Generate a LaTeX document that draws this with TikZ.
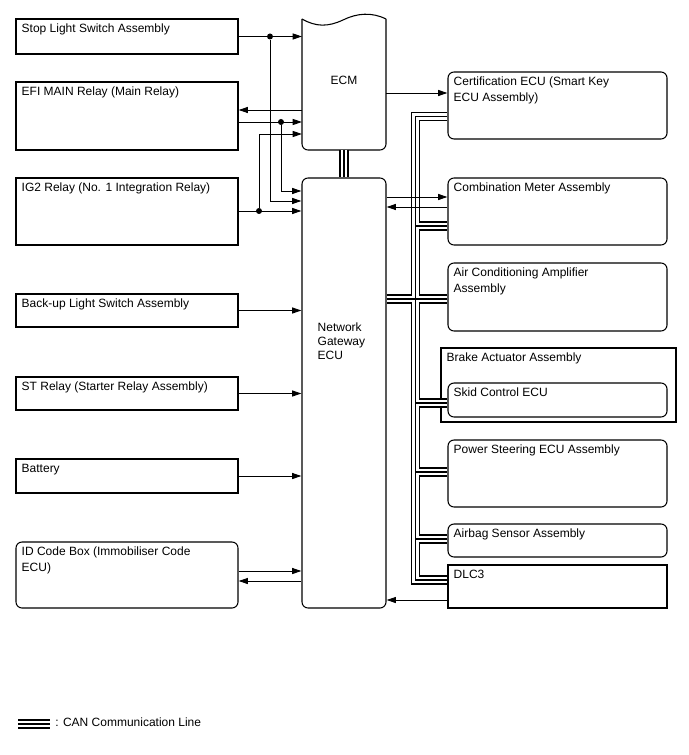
\documentclass[tikz,border=0pt]{standalone}
\usepackage{fontspec}
\setmainfont{Liberation Sans}
\usetikzlibrary{arrows.meta,fit}

\tikzset{
  sqbox/.style={draw,line width=0.8pt,inner sep=0pt},
  ecubox/.style={sqbox,rounded corners=4.5pt},
  hidden/.style={inner sep=0pt,outer sep=0pt},
  txt/.style={anchor=north west,inner sep=0pt,align=left},
  sig/.style={line width=0.7pt},
  dot/.style={circle,fill,inner sep=0pt,minimum size=4.5pt},
  canout/.style={line width=7pt,black},
  canin/.style={line width=4.6pt,white},
  canmid/.style={line width=1pt,black},
}

\begin{document}
\begin{tikzpicture}[x=0.75pt,y=-0.75pt,font=\fontsize{9}{12}\selectfont,
    >={Triangle[length=7pt,width=4.5pt]}]
  \useasboundingbox (0,0) rectangle (688,755);
  \node[sqbox,fit={(16,19) (238,54)}] (stop) {};
  \node[sqbox,fit={(16,82) (238,150)}] (efi) {};
  \node[sqbox,fit={(16,178) (238,245)}] (ig2) {};
  \node[sqbox,fit={(16,294) (238,327)}] (backup) {};
  \node[sqbox,fit={(16,377) (238,410)}] (st) {};
  \node[sqbox,fit={(16,459) (238,493)}] (batt) {};
  \node[ecubox,fit={(16,542) (238,608)}] (idbox) {};
  \node[txt] at ([shift={(6,5.5)}]stop.north west) {Stop Light Switch Assembly};
  \node[txt] at ([shift={(6,5.5)}]efi.north west) {EFI MAIN Relay (Main Relay)};
  \node[txt] at ([shift={(6,5.5)}]ig2.north west) {IG2 Relay (No. 1 Integration Relay)};
  \node[txt] at ([shift={(6,5.5)}]backup.north west) {Back-up Light Switch Assembly};
  \node[txt] at ([shift={(6,5.5)}]st.north west) {ST Relay (Starter Relay Assembly)};
  \node[txt] at ([shift={(6,5.5)}]batt.north west) {Battery};
  \node[txt] at ([shift={(6,5.5)}]idbox.north west) {ID Code Box (Immobiliser Code\\ECU)};

  \node[hidden,fit={(302,19) (386,150)}] (ecm) {};
  \draw[line width=0.8pt] (ecm.north west) .. controls (316,27) and (328,27) .. (343,20)
    .. controls (357,13) and (372,12) .. (ecm.north east);
  \draw[line width=0.8pt,rounded corners=4.5pt] (ecm.north west) -- (ecm.south west)
    -- (ecm.south east) -- (ecm.north east);
  \node at ([shift={(0,-4)}]ecm.center) {ECM};
  \node[ecubox,fit={(302,178) (386,608)}] (gw) {};
  \node[txt,font=\fontsize{9}{10.5}\selectfont] at ([shift={(16,145)}]gw.north west)
    {Network\\Gateway\\ECU};

  \node[ecubox,fit={(448,72) (667,139)}] (cert) {};
  \node[ecubox,fit={(448,178) (667,245)}] (meter) {};
  \node[ecubox,fit={(448,263) (667,331)}] (amp) {};
  \node[sqbox,fit={(441,348) (676,422)}] (brake) {};
  \node[ecubox,fit={(448,383) (667,417)}] (skid) {};
  \node[ecubox,fit={(448,440) (667,507)}] (ps) {};
  \node[ecubox,fit={(448,524) (667,557)}] (airbag) {};
  \node[sqbox,fit={(448,565) (667,608)}] (dlc) {};
  \node[txt] at ([shift={(6,5.5)}]cert.north west) {Certification ECU (Smart Key\\ECU Assembly)};
  \node[txt] at ([shift={(6,5.5)}]meter.north west) {Combination Meter Assembly};
  \node[txt] at ([shift={(6,5.5)}]amp.north west) {Air Conditioning Amplifier\\Assembly};
  \node[txt] at ([shift={(6,5.5)}]brake.north west) {Brake Actuator Assembly};
  \node[txt] at ([shift={(6,5.5)}]skid.north west) {Skid Control ECU};
  \node[txt] at ([shift={(6,5.5)}]ps.north west) {Power Steering ECU Assembly};
  \node[txt] at ([shift={(6,5.5)}]airbag.north west) {Airbag Sensor Assembly};
  \node[txt] at ([shift={(6,5.5)}]dlc.north west) {DLC3};

  \coordinate (bustop) at (415.5,116.5);
  \coordinate (busbot) at (415.5,580);
  \coordinate (legA) at (18,724);
  \coordinate (legB) at (50,724);
  \foreach \lay in {canout,canin,canmid}{
    \draw[\lay] (cert.west |- bustop) -- (bustop) -- (busbot) -- (dlc.west |- busbot);
    \draw[\lay] (bustop |- 0,226) -- (meter.west |- 0,226);
    \draw[\lay] (gw.east |- 0,299) -- (amp.west |- 0,299);
    \draw[\lay] (bustop |- 0,403) -- (skid.west |- 0,403);
    \draw[\lay] (bustop |- 0,472) -- (ps.west |- 0,472);
    \draw[\lay] (bustop |- 0,539) -- (airbag.west |- 0,539);
    \draw[\lay] (ecm.south) -- (gw.north);
    \draw[\lay] (legA) -- (legB);
  }
  \node[anchor=west,inner sep=0pt] (legtxt) at ([shift={(5,-2)}]legB) {: CAN Communication Line};

  \draw[sig,->] (stop) -- (stop -| ecm.west);
  \node[dot] (jstop) at (stop.east -| 270,0) {};
  \draw[sig,->] (jstop) |- (gw.west |- 0,201);
  \draw[sig,<-] (efi.east |- 0,110) -- (ecm.west |- 0,110);
  \draw[sig,->] (efi.east |- 0,122) -- (ecm.west |- 0,122);
  \node[dot] (jefi) at (281,122) {};
  \draw[sig,->] (jefi) |- (gw.west |- 0,191);
  \draw[sig,->] (ig2.east |- 0,211) -- (gw.west |- 0,211);
  \node[dot] (jig) at (259,211) {};
  \draw[sig,->] (jig) |- (ecm.west |- 0,134);
  \draw[sig,->] (backup) -- (backup -| gw.west);
  \draw[sig,->] (st) -- (st -| gw.west);
  \draw[sig,->] (batt) -- (batt -| gw.west);
  \draw[sig,->] (idbox.east |- 0,571) -- (gw.west |- 0,571);
  \draw[sig,<-] (idbox.east |- 0,581) -- (gw.west |- 0,581);
  \draw[sig,->] (ecm.east |- 0,93) -- (cert.west |- 0,93);
  \draw[sig,->] (gw.east |- 0,197) -- (meter.west |- 0,197);
  \draw[sig,<-] (gw.east |- 0,207) -- (meter.west |- 0,207);
  \draw[sig,<-] (gw.east |- 0,600) -- (dlc.west |- 0,600);
\end{tikzpicture}
\end{document}
